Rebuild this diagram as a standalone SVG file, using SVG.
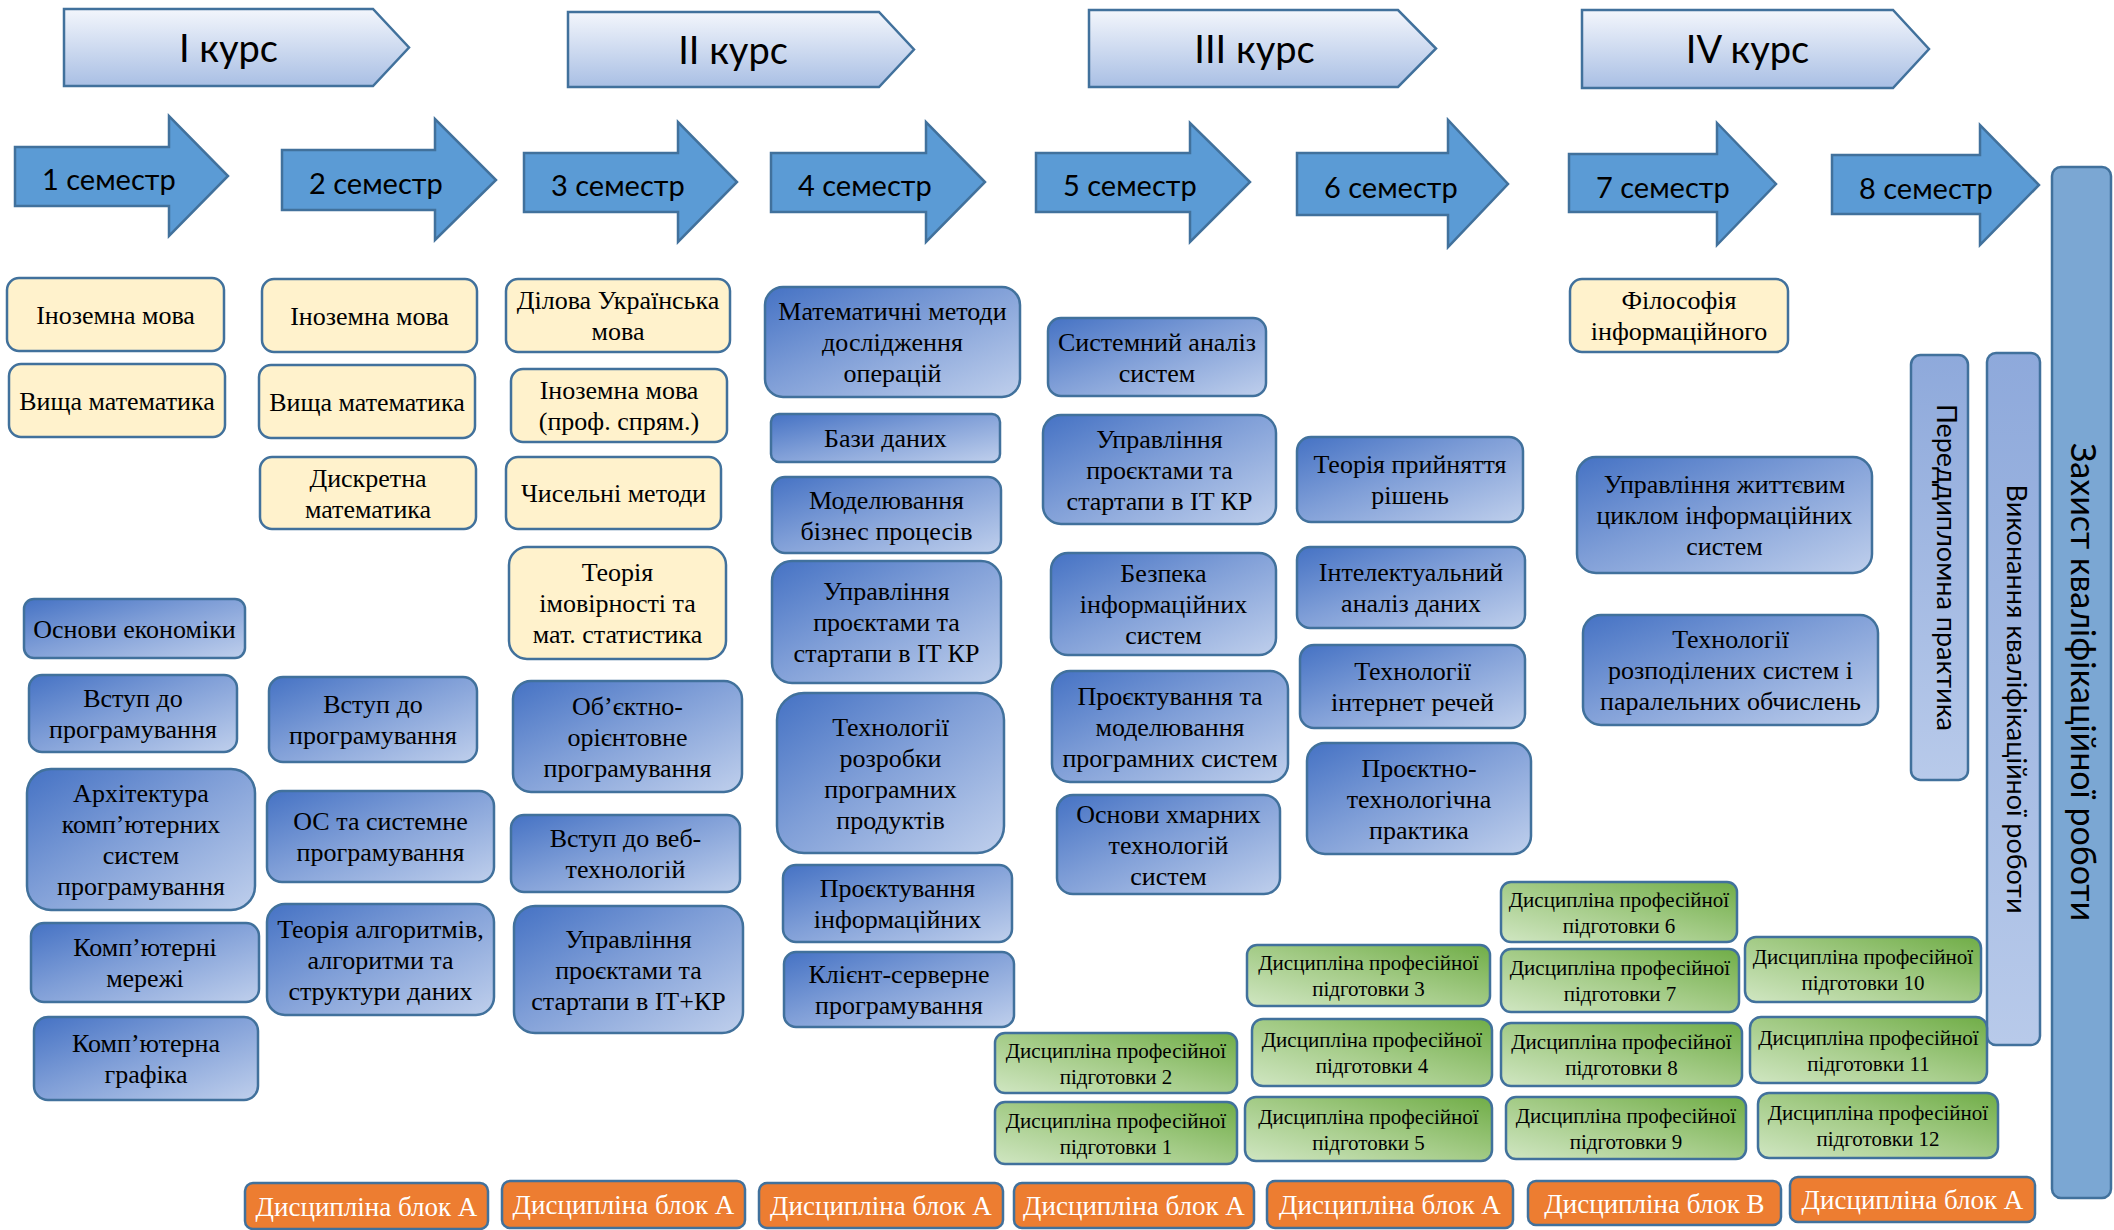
<svg xmlns="http://www.w3.org/2000/svg" width="2114" height="1230" viewBox="0 0 2114 1230">
<defs>
<linearGradient id="gCourse" x1="0" y1="0" x2="0" y2="1">
<stop offset="0" stop-color="#F3F6FC"/><stop offset="1" stop-color="#A9BFE4"/>
</linearGradient>
<linearGradient id="gBlue" x1="0" y1="0" x2="1" y2="1">
<stop offset="0" stop-color="#4572C4"/><stop offset="0.45" stop-color="#7F9ED7"/><stop offset="1" stop-color="#BFCFEC"/>
</linearGradient>
<linearGradient id="gGreen" x1="0" y1="1" x2="1" y2="0">
<stop offset="0" stop-color="#D0E6C2"/><stop offset="0.5" stop-color="#A3CB86"/><stop offset="1" stop-color="#70AD47"/>
</linearGradient>
<linearGradient id="gVert" x1="0" y1="0" x2="0" y2="1">
<stop offset="0" stop-color="#8EA9DB"/><stop offset="1" stop-color="#B8CAEA"/>
</linearGradient>
</defs>
<style>
.course{fill:url(#gCourse);stroke:#41719C;stroke-width:2.5}
.sem{fill:#5B9BD5;stroke:#41719C;stroke-width:2.5}
.cream{fill:#FFF2CC;stroke:#41719C;stroke-width:2.5}
.blue{fill:url(#gBlue);stroke:#41719C;stroke-width:2.5}
.green{fill:url(#gGreen);stroke:#41719C;stroke-width:2.5}
.orange{fill:#ED7D31;stroke:#41719C;stroke-width:2.5}
.vert{fill:url(#gVert);stroke:#41719C;stroke-width:2.5}
.defend{fill:#7BA7D3;stroke:#41719C;stroke-width:2.5}
.ct{font-family:Lato,"Liberation Sans",sans-serif;font-size:38px;fill:#000;text-anchor:middle}
.st{font-family:Lato,"Liberation Sans",sans-serif;font-size:29px;fill:#000}
.t{font-family:"Liberation Serif","Times New Roman",serif;font-size:26px;fill:#000;text-anchor:middle}
.d{font-family:"Liberation Serif","Times New Roman",serif;font-size:21px;fill:#000;text-anchor:middle}
.w{font-family:"Liberation Serif","Times New Roman",serif;font-size:27px;fill:#fff;text-anchor:middle}
.vt{font-family:Lato,"Liberation Sans",sans-serif;fill:#000;text-anchor:middle}
</style>

<g id="courses">
<g id="course1"><polygon class="course" points="64,9 373,9 409,47.5 373,86 64,86"/><text class="ct" x="228.5" y="61.5">I курс</text></g>
<g id="course2"><polygon class="course" points="568,12 879,12 914,49.5 879,87 568,87"/><text class="ct" x="733" y="63.5">II курс</text></g>
<g id="course3"><polygon class="course" points="1089,10 1398,10 1436,48.5 1398,87 1089,87"/><text class="ct" x="1254.5" y="62.5">III курс</text></g>
<g id="course4"><polygon class="course" points="1582,10 1893,10 1929,49 1893,88 1582,88"/><text class="ct" x="1747.5" y="63">IV курс</text></g>
</g>

<g id="semesters">
<g id="sem1"><polygon class="sem" points="15,147 169,147 169,116 228,176 169,236 169,206 15,206"/><text class="st" x="42" y="190">1 семестр</text></g>
<g id="sem2"><polygon class="sem" points="282,150 435,150 435,119 496,180 435,240 435,210 282,210"/><text class="st" x="309" y="194">2 семестр</text></g>
<g id="sem3"><polygon class="sem" points="524,153 678,153 678,122 737,182 678,242 678,212 524,212"/><text class="st" x="551" y="196">3 семестр</text></g>
<g id="sem4"><polygon class="sem" points="771,153 926,153 926,122 985,182 926,242 926,212 771,212"/><text class="st" x="798" y="196">4 семестр</text></g>
<g id="sem5"><polygon class="sem" points="1036,153 1190,153 1190,123 1250,182 1190,242 1190,212 1036,212"/><text class="st" x="1063" y="196">5 семестр</text></g>
<g id="sem6"><polygon class="sem" points="1297,153 1448,153 1448,120 1508,184 1448,247 1448,215 1297,215"/><text class="st" x="1324" y="198">6 семестр</text></g>
<g id="sem7"><polygon class="sem" points="1569,154 1717,154 1717,123 1776,184 1717,245 1717,212 1569,212"/><text class="st" x="1596" y="198">7 семестр</text></g>
<g id="sem8"><polygon class="sem" points="1832,155 1980,155 1980,125 2039,185 1980,245 1980,214 1832,214"/><text class="st" x="1859" y="199">8 семестр</text></g>
</g>

<g id="final">
<g id="defense"><rect class="defend" x="2052" y="167" width="59" height="1031" rx="9"/><text class="vt" style="font-size:34px" transform="translate(2071,682) rotate(90)">Захист кваліфікаційної роботи</text></g>
<g id="thesis"><rect class="vert" x="1987" y="353" width="53" height="692" rx="9"/><text class="vt" style="font-size:27px" transform="translate(2007,699) rotate(90)">Виконання кваліфікаційної роботи</text></g>
<g id="prediploma"><rect class="vert" x="1911" y="355" width="57" height="425" rx="9.5"/><text class="vt" style="font-size:27px" transform="translate(1937,567.5) rotate(90)">Переддипломна практика</text></g>
</g>

<g id="general">
<g id="n1"><rect class="cream" x="7" y="278" width="217" height="73" rx="12"/><text class="t" x="115.5" y="323.5">Іноземна мова</text></g>
<g id="n2"><rect class="cream" x="9" y="364" width="216" height="73" rx="12"/><text class="t" x="117" y="409.5">Вища математика</text></g>
<g id="n3"><rect class="cream" x="262" y="279" width="215" height="73" rx="12"/><text class="t" x="369.5" y="324.5">Іноземна мова</text></g>
<g id="n4"><rect class="cream" x="259" y="365" width="216" height="73" rx="12"/><text class="t" x="367" y="410.5">Вища математика</text></g>
<g id="n5"><rect class="cream" x="260" y="457" width="216" height="72" rx="12"/><text class="t" x="368" y="486.5">Дискретна</text><text class="t" x="368" y="517.5">математика</text></g>
<g id="n6"><rect class="cream" x="506" y="279" width="224" height="73" rx="12"/><text class="t" x="618" y="309">Ділова Українська</text><text class="t" x="618" y="340">мова</text></g>
<g id="n7"><rect class="cream" x="511" y="369" width="216" height="73" rx="12"/><text class="t" x="619" y="399">Іноземна мова</text><text class="t" x="619" y="430">(проф. спрям.)</text></g>
<g id="n8"><rect class="cream" x="506" y="457" width="215" height="72" rx="12"/><text class="t" x="613.5" y="502">Чисельні методи</text></g>
<g id="n9"><rect class="cream" x="509" y="547" width="217" height="112" rx="18"/><text class="t" x="617.5" y="581">Теорія</text><text class="t" x="617.5" y="612">імовірності та</text><text class="t" x="617.5" y="643">мат. статистика</text></g>
<g id="n10"><rect class="cream" x="1570" y="279" width="218" height="73" rx="12"/><text class="t" x="1679" y="309">Філософія</text><text class="t" x="1679" y="340">інформаційного</text></g>
</g>

<g id="professional">
<g id="n11"><rect class="blue" x="24" y="599" width="221" height="59" rx="10"/><text class="t" x="134.5" y="637.5">Основи економіки</text></g>
<g id="n12"><rect class="blue" x="29" y="675" width="208" height="77" rx="13"/><text class="t" x="133" y="707">Вступ до</text><text class="t" x="133" y="738">програмування</text></g>
<g id="n13"><rect class="blue" x="27" y="769" width="228" height="141" rx="24"/><text class="t" x="141" y="802">Архітектура</text><text class="t" x="141" y="833">комп’ютерних</text><text class="t" x="141" y="864">систем</text><text class="t" x="141" y="895">програмування</text></g>
<g id="n14"><rect class="blue" x="31" y="923" width="228" height="79" rx="13"/><text class="t" x="145" y="956">Комп’ютерні</text><text class="t" x="145" y="987">мережі</text></g>
<g id="n15"><rect class="blue" x="34" y="1017" width="224" height="83" rx="14"/><text class="t" x="146" y="1052">Комп’ютерна</text><text class="t" x="146" y="1083">графіка</text></g>
<g id="n16"><rect class="blue" x="269" y="677" width="208" height="85" rx="14"/><text class="t" x="373" y="713">Вступ до</text><text class="t" x="373" y="744">програмування</text></g>
<g id="n17"><rect class="blue" x="267" y="791" width="227" height="91" rx="15"/><text class="t" x="380.5" y="830">ОС та системне</text><text class="t" x="380.5" y="861">програмування</text></g>
<g id="n18"><rect class="blue" x="267" y="904" width="227" height="111" rx="18"/><text class="t" x="380.5" y="937.5">Теорія алгоритмів,</text><text class="t" x="380.5" y="968.5">алгоритми та</text><text class="t" x="380.5" y="999.5">структури даних</text></g>
<g id="n19"><rect class="blue" x="513" y="681" width="229" height="111" rx="18"/><text class="t" x="627.5" y="714.5">Об’єктно-</text><text class="t" x="627.5" y="745.5">орієнтовне</text><text class="t" x="627.5" y="776.5">програмування</text></g>
<g id="n20"><rect class="blue" x="511" y="815" width="229" height="77" rx="13"/><text class="t" x="625.5" y="847">Вступ до веб-</text><text class="t" x="625.5" y="878">технологій</text></g>
<g id="n21"><rect class="blue" x="514" y="906" width="229" height="127" rx="21"/><text class="t" x="628.5" y="947.5">Управління</text><text class="t" x="628.5" y="978.5">проєктами та</text><text class="t" x="628.5" y="1009.5">стартапи в IT+КР</text></g>
<g id="n22"><rect class="blue" x="765" y="287" width="255" height="110" rx="18"/><text class="t" x="892.5" y="320">Математичні методи</text><text class="t" x="892.5" y="351">дослідження</text><text class="t" x="892.5" y="382">операцій</text></g>
<g id="n23"><rect class="blue" x="771" y="414" width="229" height="48" rx="8"/><text class="t" x="885.5" y="447">Бази даних</text></g>
<g id="n24"><rect class="blue" x="772" y="477" width="229" height="76" rx="13"/><text class="t" x="886.5" y="508.5">Моделювання</text><text class="t" x="886.5" y="539.5">бізнес процесів</text></g>
<g id="n25"><rect class="blue" x="772" y="561" width="229" height="122" rx="20"/><text class="t" x="886.5" y="600">Управління</text><text class="t" x="886.5" y="631">проєктами та</text><text class="t" x="886.5" y="662">стартапи в IT КР</text></g>
<g id="n26"><rect class="blue" x="777" y="693" width="227" height="160" rx="27"/><text class="t" x="890.5" y="735.5">Технології</text><text class="t" x="890.5" y="766.5">розробки</text><text class="t" x="890.5" y="797.5">програмних</text><text class="t" x="890.5" y="828.5">продуктів</text></g>
<g id="n27"><rect class="blue" x="783" y="865" width="229" height="77" rx="13"/><text class="t" x="897.5" y="897">Проєктування</text><text class="t" x="897.5" y="928">інформаційних</text></g>
<g id="n28"><rect class="blue" x="784" y="952" width="230" height="75" rx="12"/><text class="t" x="899" y="983">Клієнт-серверне</text><text class="t" x="899" y="1014">програмування</text></g>
<g id="n29"><rect class="blue" x="1048" y="318" width="218" height="78" rx="13"/><text class="t" x="1157" y="350.5">Системний аналіз</text><text class="t" x="1157" y="381.5">систем</text></g>
<g id="n30"><rect class="blue" x="1043" y="415" width="233" height="109" rx="18"/><text class="t" x="1159.5" y="447.5">Управління</text><text class="t" x="1159.5" y="478.5">проєктами та</text><text class="t" x="1159.5" y="509.5">стартапи в IT КР</text></g>
<g id="n31"><rect class="blue" x="1051" y="553" width="225" height="102" rx="17"/><text class="t" x="1163.5" y="582">Безпека</text><text class="t" x="1163.5" y="613">інформаційних</text><text class="t" x="1163.5" y="644">систем</text></g>
<g id="n32"><rect class="blue" x="1052" y="671" width="236" height="111" rx="18"/><text class="t" x="1170" y="704.5">Проєктування та</text><text class="t" x="1170" y="735.5">моделювання</text><text class="t" x="1170" y="766.5">програмних систем</text></g>
<g id="n33"><rect class="blue" x="1057" y="795" width="223" height="99" rx="16"/><text class="t" x="1168.5" y="822.5">Основи хмарних</text><text class="t" x="1168.5" y="853.5">технологій</text><text class="t" x="1168.5" y="884.5">систем</text></g>
<g id="n34"><rect class="blue" x="1297" y="437" width="226" height="85" rx="14"/><text class="t" x="1410" y="473">Теорія прийняття</text><text class="t" x="1410" y="504">рішень</text></g>
<g id="n35"><rect class="blue" x="1297" y="547" width="228" height="81" rx="13"/><text class="t" x="1411" y="581">Інтелектуальний</text><text class="t" x="1411" y="612">аналіз даних</text></g>
<g id="n36"><rect class="blue" x="1300" y="645" width="225" height="83" rx="14"/><text class="t" x="1412.5" y="680">Технології</text><text class="t" x="1412.5" y="711">інтернет речей</text></g>
<g id="n37"><rect class="blue" x="1307" y="743" width="224" height="111" rx="18"/><text class="t" x="1419" y="776.5">Проєктно-</text><text class="t" x="1419" y="807.5">технологічна</text><text class="t" x="1419" y="838.5">практика</text></g>
<g id="n38"><rect class="blue" x="1577" y="457" width="295" height="116" rx="19"/><text class="t" x="1724.5" y="493">Управління життєвим</text><text class="t" x="1724.5" y="524">циклом інформаційних</text><text class="t" x="1724.5" y="555">систем</text></g>
<g id="n39"><rect class="blue" x="1583" y="615" width="295" height="110" rx="18"/><text class="t" x="1730.5" y="648">Технології</text><text class="t" x="1730.5" y="679">розподілених систем і</text><text class="t" x="1730.5" y="710">паралельних обчислень</text></g>
</g>

<g id="elective">
<g id="dpp1"><rect class="green" x="995" y="1102" width="242" height="62" rx="10"/><text class="d" x="1116" y="1127.5">Дисципліна професійної</text><text class="d" x="1116" y="1153.5">підготовки 1</text></g>
<g id="dpp2"><rect class="green" x="995" y="1033" width="242" height="60" rx="10"/><text class="d" x="1116" y="1057.5">Дисципліна професійної</text><text class="d" x="1116" y="1083.5">підготовки 2</text></g>
<g id="dpp3"><rect class="green" x="1247" y="945" width="243" height="61" rx="10"/><text class="d" x="1368.5" y="970">Дисципліна професійної</text><text class="d" x="1368.5" y="996">підготовки 3</text></g>
<g id="dpp4"><rect class="green" x="1252" y="1019" width="240" height="67" rx="11"/><text class="d" x="1372" y="1047">Дисципліна професійної</text><text class="d" x="1372" y="1073">підготовки 4</text></g>
<g id="dpp5"><rect class="green" x="1245" y="1097" width="247" height="64" rx="11"/><text class="d" x="1368.5" y="1123.5">Дисципліна професійної</text><text class="d" x="1368.5" y="1149.5">підготовки 5</text></g>
<g id="dpp6"><rect class="green" x="1501" y="882" width="236" height="60" rx="10"/><text class="d" x="1619" y="906.5">Дисципліна професійної</text><text class="d" x="1619" y="932.5">підготовки 6</text></g>
<g id="dpp7"><rect class="green" x="1501" y="949" width="238" height="63" rx="10"/><text class="d" x="1620" y="975">Дисципліна професійної</text><text class="d" x="1620" y="1001">підготовки 7</text></g>
<g id="dpp8"><rect class="green" x="1501" y="1023" width="241" height="63" rx="10"/><text class="d" x="1621.5" y="1049">Дисципліна професійної</text><text class="d" x="1621.5" y="1075">підготовки 8</text></g>
<g id="dpp9"><rect class="green" x="1506" y="1097" width="240" height="62" rx="10"/><text class="d" x="1626" y="1122.5">Дисципліна професійної</text><text class="d" x="1626" y="1148.5">підготовки 9</text></g>
<g id="dpp10"><rect class="green" x="1745" y="937" width="236" height="65" rx="11"/><text class="d" x="1863" y="964">Дисципліна професійної</text><text class="d" x="1863" y="990">підготовки 10</text></g>
<g id="dpp11"><rect class="green" x="1750" y="1017" width="237" height="66" rx="11"/><text class="d" x="1868.5" y="1044.5">Дисципліна професійної</text><text class="d" x="1868.5" y="1070.5">підготовки 11</text></g>
<g id="dpp12"><rect class="green" x="1758" y="1093" width="240" height="65" rx="11"/><text class="d" x="1878" y="1120">Дисципліна професійної</text><text class="d" x="1878" y="1146">підготовки 12</text></g>
</g>

<g id="blocks">
<g id="b1"><rect class="orange" x="245" y="1183" width="243" height="46" rx="8"/><text class="w" x="366.5" y="1215.5">Дисципліна блок А</text></g>
<g id="b2"><rect class="orange" x="502" y="1181" width="243" height="47" rx="8"/><text class="w" x="623.5" y="1214">Дисципліна блок А</text></g>
<g id="b3"><rect class="orange" x="759" y="1183" width="244" height="45" rx="8"/><text class="w" x="881" y="1215">Дисципліна блок А</text></g>
<g id="b4"><rect class="orange" x="1014" y="1183" width="240" height="45" rx="8"/><text class="w" x="1134" y="1215">Дисципліна блок А</text></g>
<g id="b5"><rect class="orange" x="1267" y="1181" width="246" height="47" rx="8"/><text class="w" x="1390" y="1214">Дисципліна блок А</text></g>
<g id="b6"><rect class="orange" x="1528" y="1181" width="253" height="44" rx="8"/><text class="w" x="1654.5" y="1212.5">Дисципліна блок В</text></g>
<g id="b7"><rect class="orange" x="1790" y="1177" width="245" height="45" rx="8"/><text class="w" x="1912.5" y="1209">Дисципліна блок А</text></g>
</g>

<g id="connectors"/>
</svg>
